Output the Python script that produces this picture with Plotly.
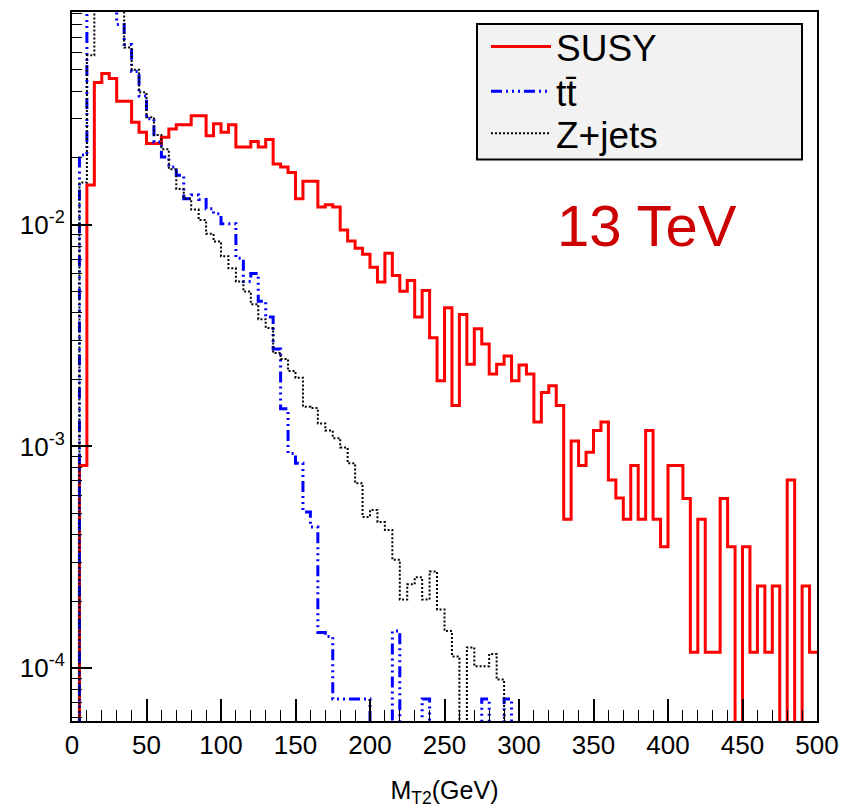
import numpy as np
import plotly.graph_objects as go

# ---- data: 100 bins of 5 GeV in M_T2 (normalised distributions) ----
bin_edges = [5 * i for i in range(101)]  # 0 .. 500 GeV

susy = [
    0.0, 8.2e-4, 0.0151, 0.0438, 0.0481, 0.0456, 0.0360, 0.0360, 0.0290, 0.0261,
    0.0232, 0.0232, 0.0248, 0.0270, 0.0282, 0.0282, 0.0310, 0.0310, 0.0252, 0.0285,
    0.0261, 0.0282, 0.0224, 0.0224, 0.0237, 0.0224, 0.0242, 0.0188, 0.0182, 0.0172,
    0.0131, 0.0157, 0.0157, 0.0120, 0.0123, 0.0120, 0.00946, 0.00845, 0.00783, 0.00736,
    0.00642, 0.00551, 0.00743, 0.00590, 0.00501, 0.00560, 0.00383, 0.00505, 0.00309, 0.00198,
    0.00422, 0.00153, 0.00394, 0.00235, 0.00339, 0.00290, 0.00212, 0.00235, 0.00256, 0.00198,
    0.00233, 0.00212, 0.00129, 0.00175, 0.00188, 0.00153, 0.000469, 0.001057, 0.00082, 0.000942,
    0.00118, 0.00129, 0.000705, 0.000585, 0.000469, 0.00082, 0.000469, 0.00118, 0.000469, 0.000353,
    0.00082, 0.00082, 0.000582, 0.000118, 0.000469, 0.000118, 0.000118, 0.000582, 0.000353, 0.0,
    0.000353, 0.000118, 0.000235, 0.000118, 0.000235, 0.0, 0.000705, 0.0, 0.000235, 0.000118,
]

ttbar = [
    0.0, 0.0206, 0.15, 0.2, 0.2, 0.15, 0.080, 0.065, 0.049, 0.038,
    0.030, 0.0236, 0.0202, 0.0182, 0.0167, 0.0131, 0.0136, 0.0130, 0.0118, 0.0112,
    0.0101, 0.0101, 0.00705, 0.00555, 0.00603, 0.00452, 0.00383, 0.00275, 0.00148, 0.00093,
    0.00084, 0.000506, 0.000433, 0.000145, 0.000139, 7.26e-5, 7.26e-5, 7.26e-5, 7.26e-5, 7.26e-5,
    0.0, 0.0, 0.0, 0.000147, 0.0, 0.0, 0.0, 7.26e-5, 0.0, 0.0,
    0.0, 0.0, 0.0, 0.0, 0.0, 7.26e-5, 0.0, 0.0, 7.26e-5, 0.0,
    0.0, 0.0, 0.0, 0.0, 0.0, 0.0, 0.0, 0.0, 0.0, 0.0,
    0.0, 0.0, 0.0, 0.0, 0.0, 0.0, 0.0, 0.0, 0.0, 0.0,
    0.0, 0.0, 0.0, 0.0, 0.0, 0.0, 0.0, 0.0, 0.0, 0.0,
    0.0, 0.0, 0.0, 0.0, 0.0, 0.0, 0.0, 0.0, 0.0, 0.0,
]

zjets = [
    0.0, 0.0155, 0.058, 0.15, 0.18, 0.16, 0.12, 0.063, 0.050, 0.0395,
    0.0305, 0.0254, 0.0219, 0.0178, 0.0145, 0.0131, 0.0117, 0.0105, 0.0091, 0.0084,
    0.0072, 0.00636, 0.00555, 0.0050, 0.00438, 0.00375, 0.00342, 0.00264, 0.00248, 0.00219,
    0.00204, 0.00151, 0.00149, 0.00127, 0.00118, 0.00109, 0.00099, 0.00084, 0.000683, 0.000481,
    0.000517, 0.000456, 0.00042, 0.000308, 0.000204, 0.000239, 0.000257, 0.000204, 0.000273, 0.000184,
    0.000147, 0.000113, 0.0, 0.000124, 0.000102, 0.000102, 0.000116, 0.000089, 0.0, 0.0,
    0.0, 0.0, 0.0, 0.0, 0.0, 0.0, 0.0, 0.0, 0.0, 0.0,
    0.0, 0.0, 0.0, 0.0, 0.0, 0.0, 0.0, 0.0, 0.0, 0.0,
    0.0, 0.0, 0.0, 0.0, 0.0, 0.0, 0.0, 0.0, 0.0, 0.0,
    0.0, 0.0, 0.0, 0.0, 0.0, 0.0, 0.0, 0.0, 0.0, 0.0,
]

x_ticks = [0, 50, 100, 150, 200, 250, 300, 350, 400, 450, 500]
y_ticks = [1e-4, 1e-3, 1e-2]
y_ticktext = ["10<sup>-4</sup>", "10<sup>-3</sup>", "10<sup>-2</sup>"]

FONT = "Liberation Sans, Arial, Helvetica, sans-serif"

# plot-area geometry (px) used to place paper-referenced decorations
PL, PR, PT, PB = 72, 817, 10, 721


def px_x(p):
    return (p - PL) / (PR - PL)


def px_y(p):
    return (PB - p) / (PB - PT)


def step(vals):
    # zero bins -> push far below the axis so the outline drops out of the frame (like ROOT)
    v = [val if val > 0 else 1e-9 for val in vals]
    return bin_edges, v + [v[-1]]


fig = go.Figure()
series = [
    ("SUSY", susy, dict(color="rgb(255,0,0)", width=3), "legend", 45),
    ("tt\u0304", ttbar, dict(color="rgb(0,0,255)", width=3,
                             dash="11px,4px,2px,4px,2px,4px,2px,4px"), "legend2", 90),
    ("Z+jets", zjets, dict(color="black", width=2, dash="2px,2px"), "legend3", 132),
]
legends = {}
for name, vals, line, lg, ypix in series:
    xs, ys = step(vals)
    fig.add_trace(go.Scatter(x=xs, y=ys, mode="lines", line_shape="hv",
                             line=line, name=name, legend=lg))
    legends[lg] = dict(x=px_x(486), xanchor="left", y=px_y(ypix), yanchor="middle",
                       bgcolor="rgba(0,0,0,0)", borderwidth=0,
                       font=dict(size=37, family=FONT), itemwidth=60)

minor_y = [k * 10.0 ** e for e in range(-5, 0) for k in range(2, 10)]

fig.update_layout(
    width=855, height=811,
    margin=dict(l=PL, r=855 - PR, t=PT, b=811 - PB),
    paper_bgcolor="white", plot_bgcolor="white",
    font=dict(family=FONT, color="black"),
    showlegend=True,
    xaxis=dict(range=[0, 500], tickvals=x_ticks, ticks="inside", ticklen=22,
               tickwidth=1.5, tickcolor="black",
               minor=dict(dtick=10, ticks="inside", ticklen=11, tickcolor="black", tickwidth=1.2),
               showgrid=False, zeroline=False, showline=True, mirror=True,
               linecolor="black", linewidth=2,
               tickfont=dict(size=26, family=FONT),
               title=dict(text="M<sub>T2</sub>(GeV)", font=dict(size=25, family=FONT),
                          standoff=22)),
    yaxis=dict(type="log", range=[-4.238, -1.041], tickvals=y_ticks, ticktext=y_ticktext,
               ticks="inside", ticklen=20, tickwidth=1.5, tickcolor="black",
               minor=dict(tickvals=minor_y, ticks="inside", ticklen=10, tickcolor="black",
                          tickwidth=1.2),
               showgrid=False, zeroline=False, showline=True, mirror=True,
               linecolor="black", linewidth=2,
               tickfont=dict(size=26, family=FONT)),
    shapes=[dict(type="rect", xref="paper", yref="paper",
                 x0=px_x(477), x1=px_x(802), y0=px_y(158), y1=px_y(22),
                 fillcolor="#f2f2f2", line=dict(color="black", width=2), layer="above")],
    annotations=[dict(text="13 TeV", xref="paper", yref="paper",
                      x=px_x(555), xanchor="left",
                      y=px_y(224), yanchor="middle", showarrow=False,
                      font=dict(size=58, color="rgb(204,0,0)", family=FONT))],
    **legends,
)

fig.write_html("out.html")
